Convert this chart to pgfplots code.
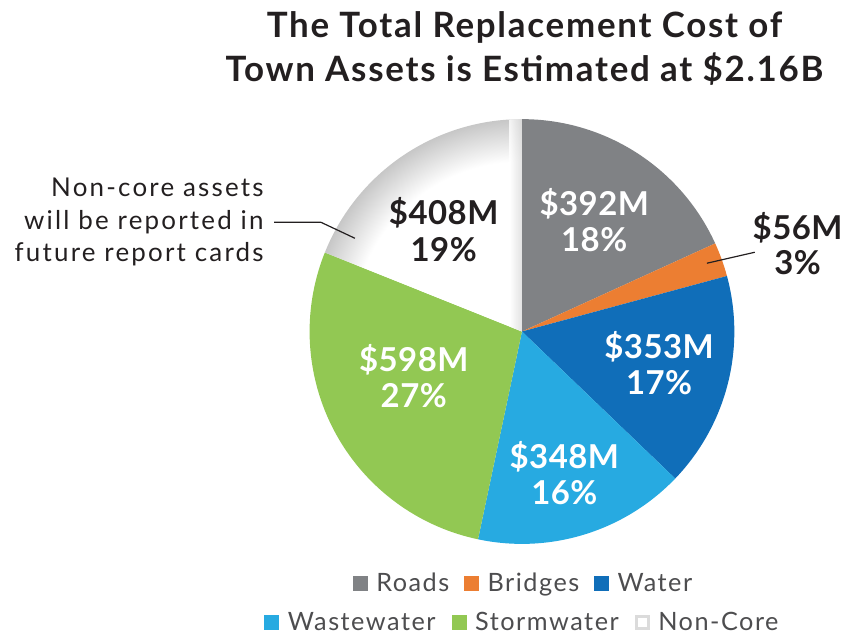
\documentclass[border=0pt]{standalone}
\usepackage{pgfplots}
\pgfplotsset{compat=1.18}
\usepackage{pgfplotstable}
\usepackage{fontspec}
\setmainfont{Lato}

\definecolor{cRoads}{RGB}{128,130,133}
\definecolor{cBridges}{RGB}{236,126,50}
\definecolor{cWater}{RGB}{16,110,185}
\definecolor{cWaste}{RGB}{39,170,225}
\definecolor{cStorm}{RGB}{146,200,83}
\definecolor{cText}{RGB}{35,31,32}
\definecolor{cLeg}{RGB}{77,77,79}

\pgfdeclareradialshading{ncshade}{\pgfpoint{0bp}{0bp}}{color(0bp)=(white); color(20bp)=(white); color(25bp)=(black!22); color(50bp)=(black!22)}

\pgfplotstableread{
name value
Roads 392
Bridges 56
Water 353
Wastewater 348
Stormwater 598
NonCore 408
}\pietable

\pgfplotstablegetelem{0}{value}\of\pietable \edef\vA{\pgfplotsretval}
\pgfplotstablegetelem{1}{value}\of\pietable \edef\vB{\pgfplotsretval}
\pgfplotstablegetelem{2}{value}\of\pietable \edef\vC{\pgfplotsretval}
\pgfplotstablegetelem{3}{value}\of\pietable \edef\vD{\pgfplotsretval}
\pgfplotstablegetelem{4}{value}\of\pietable \edef\vE{\pgfplotsretval}
\pgfplotstablegetelem{5}{value}\of\pietable \edef\vF{\pgfplotsretval}
\pgfmathsetmacro\total{\vA+\vB+\vC+\vD+\vE+\vF}
\pgfmathsetmacro\aA{90}
\pgfmathsetmacro\aB{90-360*((\vA)/\total)}
\pgfmathsetmacro\aC{90-360*((\vA+\vB)/\total)}
\pgfmathsetmacro\aD{90-360*((\vA+\vB+\vC)/\total)}
\pgfmathsetmacro\aE{90-360*((\vA+\vB+\vC+\vD)/\total)}
\pgfmathsetmacro\aF{90-360*((\vA+\vB+\vC+\vD+\vE)/\total)}
\pgfmathsetmacro\aG{-270}

\newcommand{\pieslice}[3]{\fill[#1] (axis cs:523.5,303.5) -- ++(#2:159.75pt) arc[start angle=#2, end angle=#3, radius=159.75pt] -- cycle;}
\newcommand{\sq}[1]{\textcolor{#1}{\rule{11.25pt}{11.25pt}}}
\newcommand{\sqnc}{\textcolor{black!14}{\rule{11.25pt}{11.25pt}}\kern-9pt\textcolor{white}{\rule[2.25pt]{6.75pt}{6.75pt}}\kern2.25pt}

\begin{document}
\begin{tikzpicture}
\begin{axis}[x=0.75pt, y=0.75pt, xmin=0, xmax=847, ymin=0, ymax=636,
  hide axis, clip=false, disabledatascaling]
\path (axis cs:0,0) rectangle (axis cs:847,636);
% slices
\pieslice{cRoads}{\aA}{\aB}
\pieslice{cBridges}{\aB}{\aC}
\pieslice{cWater}{\aC}{\aD}
\pieslice{cWaste}{\aD}{\aE}
\pieslice{cStorm}{\aE}{\aF}
\begin{scope}
\clip (axis cs:523.5,303.5) -- ++(\aF:159.75pt) arc[start angle=\aF, end angle=\aG, radius=159.75pt] -- cycle;
\shade[shading=ncshade] (axis cs:523.5,303.5) circle (159.75pt);
\shade[left color=white, right color=black!14, opacity=0.8] (axis cs:511,303.5) rectangle (axis cs:523.5,516.5);
\end{scope}
% title
\tikzset{ttl/.style={anchor=base, text=cText, font=\fontsize{26.25pt}{30pt}\selectfont\bfseries\addfontfeatures{LetterSpace=5}}}
\node[ttl] at (axis cs:526,598) {The Total Replacement Cost of};
\node[ttl] at (axis cs:526,554) {Town Assets is Estimated at \$2.16B};
% slice labels
\tikzset{lab/.style={anchor=base, font=\fontsize{24.75pt}{28pt}\selectfont\bfseries\addfontfeatures{LetterSpace=1.5}}}
\node[lab, text=white] at (axis cs:596,420) {\$392M};
\node[lab, text=white] at (axis cs:596,384) {18\%};
\node[lab, text=cText] at (axis cs:800,396) {\$56M};
\node[lab, text=cText] at (axis cs:800,361) {3\%};
\node[lab, text=white] at (axis cs:661,276) {\$353M};
\node[lab, text=white] at (axis cs:661,240) {17\%};
\node[lab, text=white] at (axis cs:566,166) {\$348M};
\node[lab, text=white] at (axis cs:566,130) {16\%};
\node[lab, text=white] at (axis cs:415,263) {\$598M};
\node[lab, text=white] at (axis cs:415,227) {27\%};
\node[lab, text=cText] at (axis cs:445,411) {\$408M};
\node[lab, text=cText] at (axis cs:445,374) {19\%};
% leaders
\draw[cText, line width=0.9pt] (axis cs:709,372) -- (axis cs:757,383);
\draw[cText, line width=0.9pt] (axis cs:275,413) -- (axis cs:322,413) -- (axis cs:356,397);
% annotation
\tikzset{ann/.style={anchor=base east, text=cText, font=\fontsize{19.5pt}{22pt}\selectfont\addfontfeatures{LetterSpace=8.5}}}
\node[ann] at (axis cs:269,439) {Non-core assets};
\node[ann] at (axis cs:269,406) {will be reported in};
\node[ann] at (axis cs:269,374) {future report cards};
% legend
\tikzset{leg/.style={anchor=base, text=cLeg, font=\fontsize{19pt}{22pt}\selectfont\addfontfeatures{LetterSpace=6}}}
\node[leg] at (axis cs:524,43) {\sq{cRoads}\hspace{6.5pt}Roads\hspace{11pt}\sq{cBridges}\hspace{6.5pt}Bridges\hspace{11pt}\sq{cWater}\hspace{6.5pt}Water};
\node[leg] at (axis cs:523,4) {\sq{cWaste}\hspace{6.5pt}Wastewater\hspace{12pt}\sq{cStorm}\hspace{6.5pt}Stormwater\hspace{12pt}\sqnc\hspace{6.5pt}Non-Core};
\end{axis}
\end{tikzpicture}
\end{document}
